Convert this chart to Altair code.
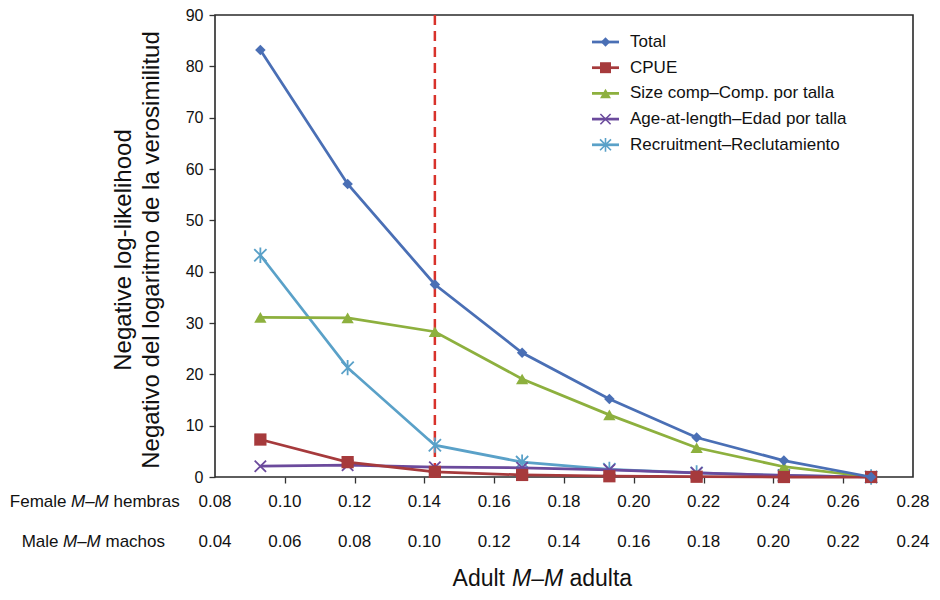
import altair as alt
import pandas as pd

# ---------------- data ----------------
female_m = [0.093, 0.118, 0.143, 0.168, 0.193, 0.218, 0.243, 0.268]
series_names = [
    "Total",
    "CPUE",
    "Size comp–Comp. por talla",
    "Age-at-length–Edad por talla",
    "Recruitment–Reclutamiento",
]
total = [83.2, 57.1, 37.5, 24.2, 15.2, 7.7, 3.2, 0.0]
cpue = [7.3, 2.9, 1.0, 0.4, 0.15, 0.05, 0.0, 0.0]
size_comp = [31.1, 31.0, 28.3, 19.1, 12.1, 5.7, 2.0, 0.0]
age_at_length = [2.1, 2.3, 1.9, 1.8, 1.4, 0.8, 0.3, 0.0]
recruitment = [43.2, 21.3, 6.2, 2.9, 1.5, 0.8, 0.3, 0.0]
series_values = [total, cpue, size_comp, age_at_length, recruitment]

female_ticks = [0.08, 0.10, 0.12, 0.14, 0.16, 0.18, 0.20, 0.22, 0.24, 0.26, 0.28]
male_ticks = [0.04, 0.06, 0.08, 0.10, 0.12, 0.14, 0.16, 0.18, 0.20, 0.22, 0.24]
male_offset = 0.04
selected_m = [0.143]
y_ticks = [0, 10, 20, 30, 40, 50, 60, 70, 80, 90]

# ---------------- styles ----------------
FONT = "Liberation Sans"
colors = ["#4A6FB5", "#A63A3C", "#8DB03E", "#6B4A9C", "#5AA1C8"]
X_PATH = "M-1,-1L1,1M-1,1L1,-1"
AST_PATH = "M-1,-1L1,1M-1,1L1,-1M0,-1.25L0,1.25"
shapes = ["diamond", "square", "triangle-up", X_PATH, AST_PATH]
filled = [True, True, True, False, False]
sizes = [110, 150, 150, 130, 150]

W, H = 698, 462

xs = alt.Scale(domain=[0.08, 0.28], nice=False, zero=False)
ys = alt.Scale(domain=[0, 90], nice=False, zero=True)

x_axis = alt.Axis(values=female_ticks[1:-1], labels=False, title=None, grid=False,
                  domain=False, ticks=True, tickSize=6, tickColor="#333333", tickWidth=1.3)
y_axis = alt.Axis(values=y_ticks, title=None, grid=False, domain=False, tickSize=6,
                  tickColor="#333333", tickWidth=1.3, labelFontSize=16, labelFont=FONT,
                  labelColor="#111111", labelPadding=6)


def xenc(field):
    return alt.X(field, type="quantitative", scale=xs, axis=x_axis)


def yenc(field):
    return alt.Y(field, type="quantitative", scale=ys, axis=y_axis)


layers = []

# dashed reference line
layers.append(
    alt.Chart(pd.DataFrame({"m": selected_m}))
    .mark_rule(color="#D8322B", strokeDash=[10, 6], strokeWidth=2.5)
    .encode(x=xenc("m"))
)

draw_order = [4, 3, 2, 1, 0]
for i in draw_order:
    df = pd.DataFrame({"m": female_m, "v": series_values[i]})
    layers.append(
        alt.Chart(df).mark_line(color=colors[i], strokeWidth=2.75)
        .encode(x=xenc("m"), y=yenc("v"))
    )
    if filled[i]:
        pt = alt.Chart(df).mark_point(filled=True, opacity=1, color=colors[i],
                                      shape=shapes[i], size=sizes[i])
    else:
        pt = alt.Chart(df).mark_point(filled=False, opacity=1, color=colors[i],
                                      shape=shapes[i], size=sizes[i], strokeWidth=1.8)
    layers.append(pt.encode(x=xenc("m"), y=yenc("v")))

# legend (drawn manually: line + marker + label)
leg_y0, leg_dy = 27, 25.7
for i, name in enumerate(series_names):
    ly = leg_y0 + leg_dy * i
    ldf = pd.DataFrame({"t": [name]})
    layers.append(
        alt.Chart(ldf).mark_rule(color=colors[i], strokeWidth=2.75)
        .encode(x=alt.value(377), x2=alt.value(404), y=alt.value(ly))
    )
    if filled[i]:
        lp = alt.Chart(ldf).mark_point(filled=True, opacity=1, color=colors[i],
                                       shape=shapes[i], size=sizes[i] * 0.8)
    else:
        lp = alt.Chart(ldf).mark_point(filled=False, opacity=1, color=colors[i],
                                       shape=shapes[i], size=sizes[i] * 0.8, strokeWidth=1.6)
    layers.append(lp.encode(x=alt.value(390.5), y=alt.value(ly)))
    layers.append(
        alt.Chart(ldf).mark_text(align="left", baseline="middle", fontSize=17,
                                 font=FONT, color="#111111")
        .encode(x=alt.value(415), y=alt.value(ly), text="t:N")
    )

# female tick labels row
fdf = pd.DataFrame({"m": female_ticks})
layers.append(
    alt.Chart(fdf).transform_calculate(lab="format(datum.m, '.2f')")
    .mark_text(align="center", baseline="middle", fontSize=17, font=FONT, color="#111111")
    .encode(x=xenc("m"), y=alt.value(487), text="lab:N")
)
# male tick labels row (male value sits at female = male + offset)
mdf = pd.DataFrame({"male": male_ticks})
layers.append(
    alt.Chart(mdf).transform_calculate(
        m=f"datum.male + {male_offset}", lab="format(datum.male, '.2f')")
    .mark_text(align="center", baseline="middle", fontSize=17, font=FONT, color="#111111")
    .encode(x=xenc("m"), y=alt.value(527), text="lab:N")
)


def txt(s, x, y, align="left", size=17, italic=False, baseline="middle", angle=None):
    kw = dict(align=align, baseline=baseline, fontSize=size, font=FONT, color="#111111")
    if italic:
        kw["fontStyle"] = "italic"
    if angle is not None:
        kw["angle"] = angle
    return (alt.Chart(pd.DataFrame({"t": [s]})).mark_text(**kw)
            .encode(x=alt.value(x), y=alt.value(y), text="t:N"))


# row labels with italic M–M
layers += [
    txt("Female", -148.5, 487, align="right"),
    txt("M–M", -144, 487, italic=True),
    txt("hembras", -101.5, 487),
    txt("Male", -156.5, 527, align="right"),
    txt("M–M", -152, 527, italic=True),
    txt("machos", -109.5, 527),
]

# x title
layers += [
    txt("Adult", 290, 571, align="right", size=23, baseline="alphabetic"),
    txt("M–M", 297, 571, size=23, italic=True, baseline="alphabetic"),
    txt("adulta", 354.5, 571, size=23, baseline="alphabetic"),
]

# y title (two lines)
layers += [
    txt("Negative log-likelihood", -91, 235, align="center", size=24, angle=270),
    txt("Negativo del logaritmo de la verosimilitud", -63, 235, align="center", size=24, angle=270),
]

chart = (
    alt.layer(*layers)
    .properties(width=W, height=H, autosize="none",
                padding={"left": 207, "top": 7, "right": 19, "bottom": 115},
                view=alt.ViewConfig(stroke="#2a2a2a", strokeWidth=1.6))
    .configure_view(stroke="#2a2a2a", strokeWidth=1.6)
    .configure(background="white")
)

chart.save("out.html", embed_options={"renderer": "svg", "actions": False})
